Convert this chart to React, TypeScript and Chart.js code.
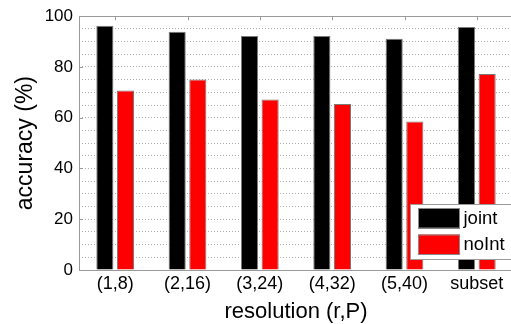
import React, { useEffect, useRef } from 'react';
import { Chart, registerables } from 'chart.js';
Chart.register(...registerables);

const categories = ['(1,8)', '(2,16)', '(3,24)', '(4,32)', '(5,40)', 'subset'];
const seriesNames = ['joint', 'noInt'];
const jointValues = [96.2, 93.9, 92.2, 92.2, 91.1, 95.7];
const noIntValues = [70.7, 75.1, 67.2, 65.4, 58.5, 77.2];
const seriesColors = ['#000000', '#ff0000'];
const yMin = 0;
const yMax = 100;
const yGridStep = 5;
const yLabelStep = 20;
const xTitle = 'resolution (r,P)';
const yTitle = 'accuracy (%)';

const FONT = '"Liberation Sans", Arial, sans-serif';
const W = 516;
const H = 324;

const framePlugin = {
  id: 'frame',
  afterDraw(chart: any) {
    const { ctx, chartArea } = chart;
    const { left, right, top, bottom } = chartArea;
    const xs = chart.scales.x;
    const ys = chart.scales.y;
    ctx.save();
    ctx.strokeStyle = '#9a9a9a';
    ctx.lineWidth = 1;
    ctx.setLineDash([]);
    ctx.beginPath();
    ctx.moveTo(Math.round(left) + 0.5, top);
    ctx.lineTo(Math.round(left) + 0.5, bottom);
    ctx.moveTo(left, Math.round(top) + 0.5);
    ctx.lineTo(right, Math.round(top) + 0.5);
    ctx.moveTo(left, Math.round(bottom) + 0.5);
    ctx.lineTo(right, Math.round(bottom) + 0.5);
    ctx.moveTo(Math.round(right) - 0.5, top);
    ctx.lineTo(Math.round(right) - 0.5, bottom);
    categories.forEach((_, i) => {
      const px = Math.round(xs.getPixelForValue(i)) + 0.5;
      ctx.moveTo(px, top);
      ctx.lineTo(px, top + 4);
    });
    for (let v = yMin; v <= yMax; v += yLabelStep) {
      const py = Math.round(ys.getPixelForValue(v)) + 0.5;
      ctx.moveTo(left, py);
      ctx.lineTo(left + 4, py);
    }
    ctx.stroke();

    // legend
    const bx = 410.5, by = 204.5, bw = 120, bh = 55;
    ctx.fillStyle = '#ffffff';
    ctx.fillRect(bx, by, bw, bh);
    ctx.strokeStyle = '#9a9a9a';
    ctx.strokeRect(bx, by, bw, bh);
    chart.data.datasets.forEach((ds: any, i: number) => {
      const sy = 208 + i * 26.5;
      ctx.fillStyle = ds.backgroundColor;
      ctx.fillRect(418, sy, 42, 20.5);
      ctx.strokeStyle = '#8a8a8a';
      ctx.strokeRect(418.5, sy + 0.5, 41, 19.5);
      ctx.fillStyle = '#000000';
      ctx.font = `18.5px ${FONT}`;
      ctx.textBaseline = 'middle';
      ctx.textAlign = 'left';
      ctx.fillText(ds.label, 463.5, sy + 10.5);
    });
    ctx.restore();
  },
};

export default function App() {
  const ref = useRef<HTMLCanvasElement | null>(null);
  useEffect(() => {
    if (!ref.current) return;
    document.body.style.margin = '0';
    document.body.style.overflow = 'hidden';
    const chart = new Chart(ref.current, {
      type: 'bar',
      data: {
        labels: categories,
        datasets: [
          {
            label: seriesNames[0],
            data: jointValues,
            backgroundColor: seriesColors[0],
            borderColor: '#7a7a7a',
            borderWidth: 1,
            categoryPercentage: 0.57,
            barPercentage: 0.83,
          },
          {
            label: seriesNames[1],
            data: noIntValues,
            backgroundColor: seriesColors[1],
            borderColor: '#7a7a7a',
            borderWidth: 1,
            categoryPercentage: 0.57,
            barPercentage: 0.83,
          },
        ],
      },
      options: {
        animation: false,
        responsive: false,
        devicePixelRatio: 1,
        layout: { padding: { left: 0, top: 12, right: 3, bottom: 0 } },
        plugins: { legend: { display: false }, tooltip: { enabled: false } },
        scales: {
          x: {
            grid: { display: false, drawTicks: false },
            border: { display: false },
            ticks: { color: '#000', font: { family: FONT, size: 18 }, padding: 3, maxRotation: 0 },
            title: { display: true, text: xTitle, color: '#000', font: { family: FONT, size: 22 }, padding: { top: 0, bottom: -1 } },
            afterFit: (s: any) => { s.height = 54; },
          },
          y: {
            min: yMin,
            max: yMax,
            grid: { color: '#aaaaaa', drawTicks: false, lineWidth: 1 },
            border: { display: false, dash: [1, 2] },
            ticks: {
              stepSize: yGridStep,
              color: '#000',
              font: { family: FONT, size: 17 },
              padding: 6,
              autoSkip: false,
              callback: (v: any) => (Number(v) % yLabelStep === 0 ? String(v) : ''),
            },
            title: { display: true, text: yTitle, color: '#000', font: { family: FONT, size: 23 }, padding: { top: 12, bottom: 0 } },
            afterFit: (s: any) => { s.width = 79; },
          },
        },
      },
      plugins: [framePlugin],
    });
    return () => chart.destroy();
  }, []);
  return (
    <div style={{ position: 'fixed', left: 0, top: 0, width: 511, height: 324, overflow: 'hidden', background: '#fff' }}>
      <canvas ref={ref} width={W} height={H} style={{ display: 'block', width: W, height: H }} />
    </div>
  );
}
